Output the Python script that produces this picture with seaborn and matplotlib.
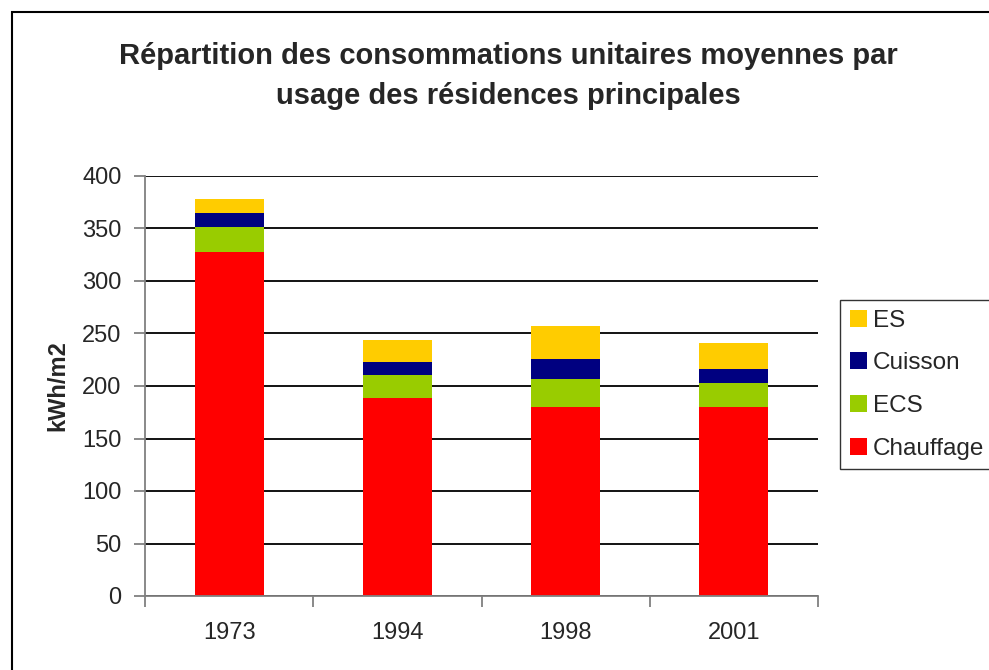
import matplotlib
matplotlib.use("Agg")
import matplotlib.pyplot as plt
import seaborn as sns
import pandas as pd
import numpy as np
from matplotlib.patches import Patch, Rectangle

years = ["1973", "1994", "1998", "2001"]
chauffage = [328, 189, 180, 180]
ecs = [23, 21, 27, 23]
cuisson = [14, 13, 19, 13]
es = [13, 21, 31, 25]

series_names = ["Chauffage", "ECS", "Cuisson", "ES"]
series_vals = [chauffage, ecs, cuisson, es]
colors = {"Chauffage": "#FF0000", "ECS": "#99CC00", "Cuisson": "#000080", "ES": "#FFCC00"}

sns.set_style("white")
plt.rcParams["font.family"] = ["Liberation Sans", "DejaVu Sans"]

fig = plt.figure(figsize=(9.89, 6.7), dpi=100)
ax = fig.add_axes([145/989, 1-596/670, (818-145)/989, (596-176)/670])

cum = np.cumsum(np.array(series_vals), axis=0)
df = pd.DataFrame({"year": years})
# draw from tallest cumulative layer down so lower layers overlay
for i in range(len(series_names) - 1, -1, -1):
    df["val"] = cum[i]
    sns.barplot(data=df, x="year", y="val", color=colors[series_names[i]],
                width=0.41, saturation=1, ax=ax, linewidth=0, edgecolor="none")

ax.set_ylim(0, 400)
ax.set_xlim(-0.5, 3.5)
ax.set_yticks(range(0, 401, 50))
ax.yaxis.grid(True, color="black", linewidth=1.3)
ax.set_axisbelow(True)
for s in ["top", "right"]:
    ax.spines[s].set_visible(False)
ax.spines["left"].set_color("#808080")
ax.spines["bottom"].set_color("#808080")
ax.spines["left"].set_linewidth(1.3)
ax.spines["bottom"].set_linewidth(1.3)

ax.tick_params(axis="y", which="major", left=True, length=8, width=1.3, color="#808080",
               labelsize=17, pad=9)
ax.set_xticks(range(4))
ax.set_xticklabels(years)
ax.tick_params(axis="x", which="major", bottom=False, length=0, labelsize=17, pad=19)
ax.set_xticks([-0.5, 0.5, 1.5, 2.5, 3.5], minor=True)
ax.tick_params(axis="x", which="minor", bottom=True, length=8, width=1.3, color="#808080")

ax.set_xlabel("")
ax.set_ylabel("kWh/m2", fontsize=17, fontweight="bold", labelpad=9)

fig.text(0.514, 1-56/670, "Répartition des consommations unitaires moyennes par",
         ha="center", va="center", fontsize=21, fontweight="bold")
fig.text(0.514, 1-96/670, "usage des résidences principales",
         ha="center", va="center", fontsize=21, fontweight="bold")

handles = [Patch(facecolor=colors[n], edgecolor="none") for n in ["ES", "Cuisson", "ECS", "Chauffage"]]
leg = fig.legend(handles, ["ES", "Cuisson", "ECS", "Chauffage"],
                 loc="upper left", bbox_to_anchor=(840/989, 1-300/670),
                 frameon=True, fontsize=17.5, handlelength=0.7, handleheight=0.7,
                 handletextpad=0.25, labelspacing=0.85, borderpad=0.4,
                 borderaxespad=0, fancybox=False)
leg.get_frame().set_edgecolor("black")
leg.get_frame().set_linewidth(1)

fig.patches.append(Rectangle((12/989, -0.05), 1.0, 1-12/670+0.05, transform=fig.transFigure,
                             fill=False, edgecolor="black", linewidth=1.5))

fig.savefig("out.png", dpi=100)
